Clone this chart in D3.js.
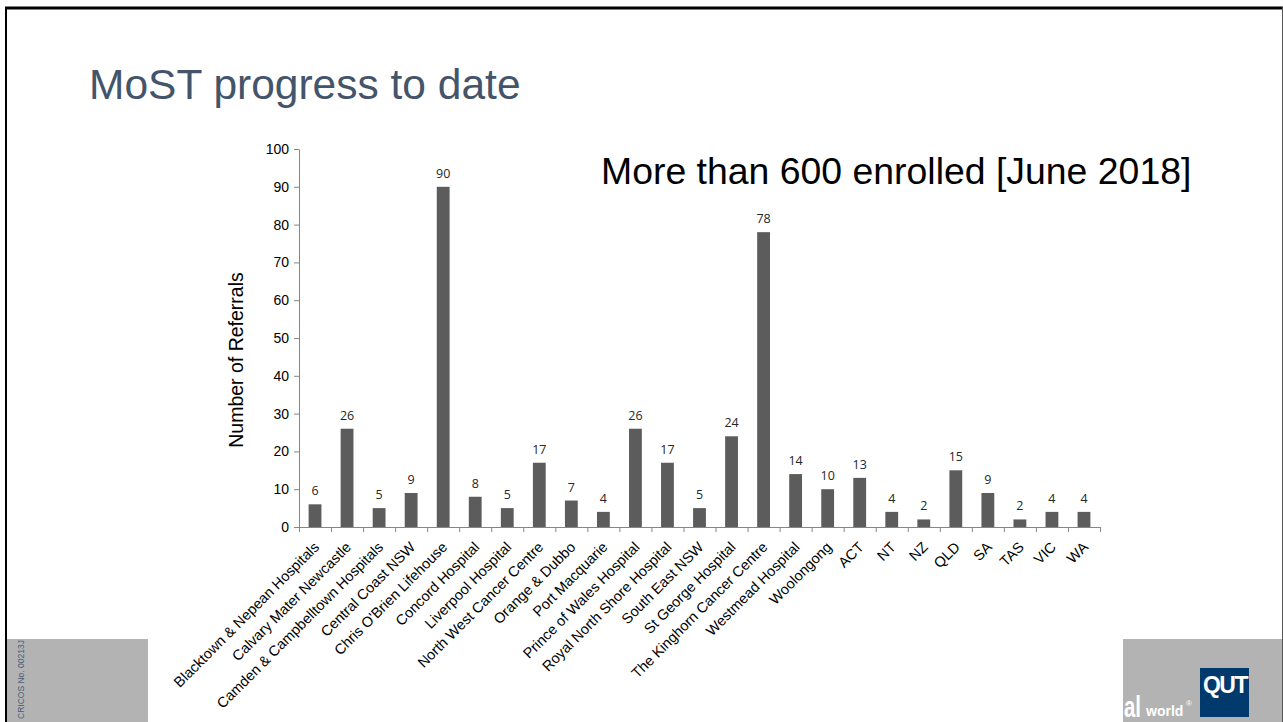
<!DOCTYPE html>
<html>
<head>
<meta charset="utf-8">
<script src="https://cdn.jsdelivr.net/npm/d3@7"></script>
<style>
  body { margin: 0; background: #fff; }
  svg { display: block; }
</style>
</head>
<body>
<script>
// referrals per site
var sites = ["Blacktown & Nepean Hospitals", "Calvary Mater Newcastle", "Camden & Campbelltown Hospitals",
  "Central Coast NSW", "Chris O'Brien Lifehouse", "Concord Hospital", "Liverpool Hospital",
  "North West Cancer Centre", "Orange & Dubbo", "Port Macquarie", "Prince of Wales Hospital",
  "Royal North Shore Hospital", "South East NSW", "St George Hospital", "The Kinghorn Cancer Centre",
  "Westmead Hospital", "Woolongong", "ACT", "NT", "NZ", "QLD", "SA", "TAS", "VIC", "WA"]
var referrals = [6, 26, 5, 9, 90, 8, 5, 17, 7, 4, 26, 17, 5, 24, 78, 14, 10, 13, 4, 2, 15, 9, 2, 4, 4]
var yTicks = [0, 10, 20, 30, 40, 50, 60, 70, 80, 90, 100]

var W = 1283, H = 722
var font = "Liberation Sans, Arial, sans-serif"
var svg = d3.select("body").append("svg")
    .attr("width", W)
    .attr("height", H)

// slide frame
svg.append("line").attr("x1", 5).attr("x2", W).attr("y1", 8).attr("y2", 8)
    .attr("stroke", "#000").attr("stroke-width", 3)
svg.append("line").attr("x1", 6).attr("x2", 6).attr("y1", 7).attr("y2", H)
    .attr("stroke", "#000").attr("stroke-width", 2)
svg.append("line").attr("x1", 1282.5).attr("x2", 1282.5).attr("y1", 7).attr("y2", H)
    .attr("stroke", "#555").attr("stroke-width", 1)

// footer boxes
svg.append("rect").attr("x", 7).attr("y", 639).attr("width", 141).attr("height", 83).attr("fill", "#b3b3b3")
svg.append("rect").attr("x", 1123).attr("y", 639).attr("width", 159).attr("height", 83).attr("fill", "#b3b3b3")
svg.append("text")
    .attr("transform", "translate(24,719) rotate(-90)")
    .attr("font-family", font)
    .attr("font-size", 8.5)
    .attr("fill", "#4d5b78")
    .text("CRICOS No. 00213J")
svg.append("text").attr("x", 1124).attr("y", 717)
    .attr("font-family", font)
    .attr("font-weight", "bold").attr("font-size", 29).attr("fill", "#fff")
    .attr("textLength", 17).attr("lengthAdjust", "spacingAndGlyphs")
    .text("al")
svg.append("text").attr("x", 1146).attr("y", 716)
    .attr("font-family", font)
    .attr("font-weight", "bold").attr("font-size", 14).attr("fill", "#fff")
    .text("world")
svg.append("text").attr("x", 1186).attr("y", 706)
    .attr("font-family", font)
    .attr("font-size", 8).attr("fill", "#fff")
    .text("®")
svg.append("rect").attr("x", 1200).attr("y", 668).attr("width", 49).attr("height", 49).attr("fill", "#003a6c")
svg.append("text").attr("x", 1225).attr("y", 693)
    .attr("text-anchor", "middle")
    .attr("font-family", font)
    .attr("font-weight", "bold").attr("font-size", 23).attr("fill", "#fff")
    .attr("letter-spacing", -1.5)
    .text("QUT")

// titles
svg.append("text").attr("x", 89).attr("y", 99)
    .attr("font-family", font)
    .attr("font-size", 42.5).attr("fill", "#44546a")
    .text("MoST progress to date")
svg.append("text").attr("x", 601).attr("y", 184)
    .attr("font-family", font)
    .attr("font-size", 37.4).attr("fill", "#000")
    .text("More than 600 enrolled [June 2018]")

// scales
var x = d3.scaleBand()
    .domain(sites)
    .range([299, 1100])
    .paddingInner(0.6)
    .paddingOuter(0.3)

var y = d3.scaleLinear()
    .domain([0, 100])
    .range([527, 149])

var axisColor = "#868686"

// y axis
var yAxis = svg.append("g")
    .attr("transform", "translate(299,0)")
    .call(d3.axisLeft(y).tickValues(yTicks).tickSize(5).tickPadding(5).tickSizeOuter(0))
yAxis.select(".domain").attr("stroke", axisColor)
yAxis.selectAll(".tick line").attr("stroke", axisColor)
yAxis.selectAll("text")
    .attr("font-family", font)
    .attr("font-size", 14)
    .attr("fill", "#000")

svg.append("text")
    .attr("transform", "translate(243,360) rotate(-90)")
    .attr("text-anchor", "middle")
    .attr("font-family", font)
    .attr("font-size", 19.5)
    .attr("fill", "#000")
    .text("Number of Referrals")

// x axis line and boundary ticks
var step = x.step()
var bounds = d3.range(sites.length + 1).map(function(i) { return x.range()[0] + i * step })
svg.append("line")
    .attr("x1", x.range()[0]).attr("x2", x.range()[1])
    .attr("y1", y(0) + 0.5).attr("y2", y(0) + 0.5)
    .attr("stroke", axisColor)
svg.selectAll(".xtick")
    .data(bounds)
    .enter().append("line")
    .attr("class", "xtick")
    .attr("x1", function(d) { return d + 0.5 }).attr("x2", function(d) { return d + 0.5 })
    .attr("y1", y(0)).attr("y2", y(0) + 5)
    .attr("stroke", axisColor)

// bars
svg.selectAll(".bar")
    .data(referrals)
    .enter().append("rect")
    .attr("class", "bar")
    .attr("x", function(d, i) { return x(sites[i]) })
    .attr("width", x.bandwidth())
    .attr("y", function(d) { return y(d) })
    .attr("height", function(d) { return y(0) - y(d) })
    .attr("fill", "#5c5c5c")

// value labels
svg.selectAll(".val")
    .data(referrals)
    .enter().append("text")
    .attr("class", "val")
    .attr("x", function(d, i) { return x(sites[i]) + x.bandwidth() / 2 })
    .attr("y", function(d) { return y(d) - 9 })
    .attr("text-anchor", "middle")
    .attr("font-family", "Liberation Sans Narrow, Open Sans, sans-serif")
    .attr("font-size", 12.5)
    .attr("fill", "#262626")
    .text(function(d) { return d })

// category labels
svg.selectAll(".cat")
    .data(sites)
    .enter().append("text")
    .attr("class", "cat")
    .attr("transform", function(d) {
      return "translate(" + (x(d) + x.bandwidth() / 2 + 5) + "," + (y(0) + 21) + ") rotate(-45)"
    })
    .attr("text-anchor", "end")
    .attr("font-family", font)
    .attr("font-size", 14.5)
    .attr("fill", "#000")
    .text(function(d) { return d })
</script>
</body>
</html>
